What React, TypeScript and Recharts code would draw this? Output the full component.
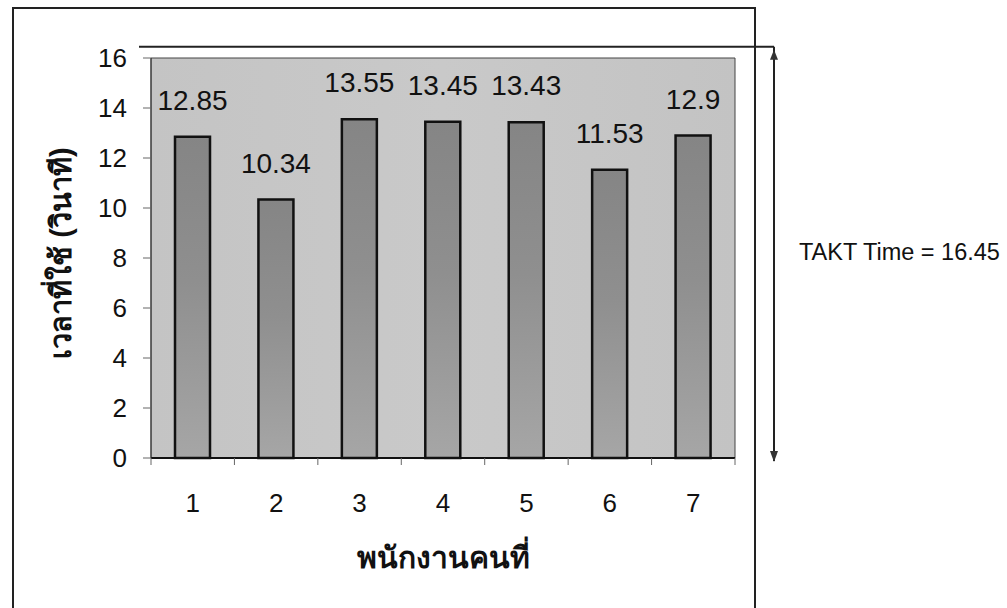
import React from 'react';
import { BarChart, Bar, XAxis, YAxis, CartesianGrid, ReferenceArea, LabelList } from 'recharts';

const categories = ['1', '2', '3', '4', '5', '6', '7'];
const cycleTimes = [12.85, 10.34, 13.55, 13.45, 13.43, 11.53, 12.9];
const yTicks = [0, 2, 4, 6, 8, 10, 12, 14, 16];
const taktTime = 16.45;
const xTitle = 'พนักงานคนที่';
const yTitle = 'เวลาที่ใช้ (วินาที)';
const taktLabel = `TAKT Time = ${taktTime}`;

const data = categories.map((c, i) => ({ worker: c, time: cycleTimes[i] }));

const FONT = "Arial, 'Liberation Sans', sans-serif";
const W = 1007;
const H = 608;
const MARGIN = { top: 58, right: 272, bottom: 90, left: 91 };
const Y_AXIS_W = 60;
const X_AXIS_H = 60;
const PLOT_W = W - MARGIN.left - MARGIN.right - Y_AXIS_W;
const X_TICK_SIZE = 6;
const X_TICK_MARGIN = 2;

const XTick = (props: any) => {
  const { x, y, payload, index } = props;
  const band = PLOT_W / categories.length;
  const axisY = y - X_TICK_SIZE - X_TICK_MARGIN;
  return (
    <g>
      <line x1={x - band / 2} x2={x - band / 2} y1={axisY} y2={axisY + 7} stroke="#666" strokeWidth={1} />
      {index === categories.length - 1 && (
        <line x1={x + band / 2} x2={x + band / 2} y1={axisY} y2={axisY + 7} stroke="#666" strokeWidth={1} />
      )}
      <text x={x} y={axisY + 54} textAnchor="middle" fontSize={26} fontFamily={FONT} fill="#111">
        {payload.value}
      </text>
    </g>
  );
};

const YTitle = (props: any) => {
  const { viewBox } = props;
  const cx = viewBox.x - 30;
  const cy = viewBox.y + viewBox.height / 2 - 5;
  return (
    <text
      x={cx}
      y={cy}
      transform={`rotate(-90 ${cx} ${cy})`}
      textAnchor="middle"
      dominantBaseline="central"
      fontSize={29}
      fontWeight="bold"
      fontFamily={FONT}
      fill="#111"
    >
      {yTitle}
    </text>
  );
};

const TaktShape = (props: any) => {
  const { x, y, width, height } = props;
  const right = x + width;
  const arrowX = right + 39;
  const bottom = y + height;
  return (
    <g>
      <line x1={x - 12} x2={arrowX} y1={y} y2={y} stroke="#222" strokeWidth={2} />
      <line x1={arrowX} x2={arrowX} y1={y} y2={bottom + 3} stroke="#222" strokeWidth={2} />
      <path d={`M ${arrowX - 4} ${y + 13} L ${arrowX} ${y + 3} L ${arrowX + 4} ${y + 13} Z`} fill="#333" />
      <path d={`M ${arrowX - 4} ${bottom - 7} L ${arrowX} ${bottom + 4} L ${arrowX + 4} ${bottom - 7} Z`} fill="#333" />
      <text x={right + 64} y={y + height / 2} dominantBaseline="central" fontSize={23.5} fontFamily={FONT} fill="#111">
        {taktLabel}
      </text>
    </g>
  );
};

export default function App() {
  return (
    <div style={{ position: 'absolute', left: 0, top: 0, width: W, height: H, overflow: 'hidden', background: '#fff' }}>
      <div
        style={{
          position: 'absolute',
          left: 12,
          top: 7,
          width: 744,
          height: H - 7,
          boxSizing: 'border-box',
          borderTop: '2px solid #222',
          borderLeft: '2px solid #222',
          borderRight: '2px solid #222',
        }}
      />
      <div style={{ position: 'absolute', left: 0, top: 0 }}>
        <BarChart width={W} height={H} data={data} margin={MARGIN} barCategoryGap="20%">
          <defs>
            <linearGradient id="barFill" x1="0" y1="0" x2="0" y2="1">
              <stop offset="0%" stopColor="#858585" />
              <stop offset="45%" stopColor="#8f8f8f" />
              <stop offset="100%" stopColor="#a6a6a6" />
            </linearGradient>
            <linearGradient id="bgFill" x1="0" y1="0" x2="1" y2="0">
              <stop offset="0%" stopColor="#c4c4c4" />
              <stop offset="50%" stopColor="#c9c9c9" />
              <stop offset="100%" stopColor="#c3c3c3" />
            </linearGradient>
          </defs>
          <CartesianGrid horizontal={false} vertical={false} fill="url(#bgFill)" fillOpacity={1} />
          <ReferenceArea y1={0} y2={16} fill="none" stroke="#444" strokeWidth={1} ifOverflow="visible" />
          <ReferenceArea y1={0} y2={taktTime} ifOverflow="visible" shape={<TaktShape />} />
          <XAxis
            dataKey="worker"
            height={X_AXIS_H}
            axisLine={{ stroke: '#111', strokeWidth: 2 }}
            tickLine={false}
            tickSize={X_TICK_SIZE}
            tickMargin={X_TICK_MARGIN}
            tick={<XTick />}
            interval={0}
            label={{ value: xTitle, position: 'bottom', offset: 29, fontSize: 30, fontWeight: 'bold', fontFamily: FONT, fill: '#111' }}
          />
          <YAxis
            width={Y_AXIS_W}
            domain={[0, 16]}
            ticks={yTicks}
            interval={0}
            axisLine={{ stroke: '#333', strokeWidth: 1 }}
            tickLine={{ stroke: '#666' }}
            tickSize={8}
            tickMargin={16}
            tick={{ fontSize: 26, fontFamily: FONT, fill: '#111' }}
            label={<YTitle />}
          />
          <Bar dataKey="time" barSize={35} fill="url(#barFill)" stroke="#111" strokeWidth={2.5} isAnimationActive={false}>
            <LabelList dataKey="time" position="top" offset={27} fontSize={28} fontFamily={FONT} fill="#111" />
          </Bar>
        </BarChart>
      </div>
    </div>
  );
}
